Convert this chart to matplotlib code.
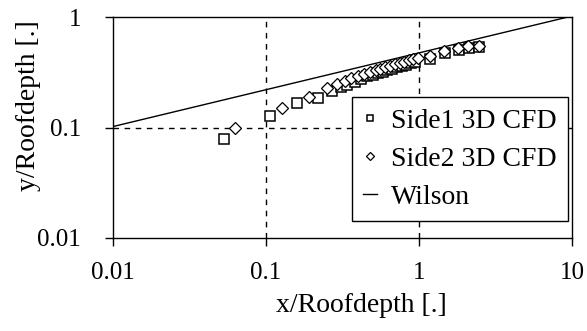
import matplotlib
matplotlib.use("Agg")
import matplotlib.pyplot as plt
from matplotlib.ticker import FixedLocator, FixedFormatter, NullLocator

plt.rcParams['font.family'] = ['Liberation Serif', 'DejaVu Serif']

# Side 1 (3D CFD) reattachment profile
side1_x = [0.053, 0.106, 0.16, 0.22, 0.27, 0.31, 0.34, 0.38, 0.42, 0.46, 0.50,
           0.54, 0.58, 0.62, 0.67, 0.72, 0.77, 0.82, 0.88, 0.94, 1.18, 1.48,
           1.83, 2.13, 2.45]
side1_y = [0.079, 0.126, 0.166, 0.185, 0.214, 0.232, 0.24, 0.26, 0.275, 0.29,
           0.30, 0.31, 0.32, 0.33, 0.34, 0.35, 0.36, 0.37, 0.38, 0.39, 0.42,
           0.47, 0.50, 0.52, 0.53]

# Side 2 (3D CFD) reattachment profile
side2_x = [0.063, 0.127, 0.19, 0.25, 0.29, 0.33, 0.36, 0.40, 0.44, 0.48, 0.52,
           0.56, 0.60, 0.65, 0.70, 0.75, 0.80, 0.86, 0.92, 0.98, 1.18, 1.45,
           1.8, 2.1, 2.45]
side2_y = [0.10, 0.149, 0.19, 0.228, 0.248, 0.264, 0.28, 0.29, 0.305, 0.32,
           0.33, 0.34, 0.35, 0.36, 0.375, 0.385, 0.395, 0.405, 0.415, 0.425,
           0.44, 0.49, 0.52, 0.55, 0.55]

# Wilson envelope (straight line on log-log axes)
wilson_x = [0.01, 10.0]
wilson_y = [0.102, 1.02]

x_ticks = [0.01, 0.1, 1, 10]
x_tick_labels = ['0.01', '0.1', '1', '10']
y_ticks = [0.01, 0.1, 1]
y_tick_labels = ['0.01', '0.1', '1']

fig = plt.figure(figsize=(5.87, 3.31), dpi=100)
ax = fig.add_axes([113 / 587, 1 - 238 / 331, (572 - 113) / 587, (238 - 17) / 331])

ax.set_xscale('log')
ax.set_yscale('log')
ax.set_xlim(0.01, 10)
ax.set_ylim(0.01, 1)

# dashed reference lines
for xv in [0.1, 1]:
    ax.axvline(xv, color='black', lw=1.0, ls=(0, (4, 4)), zorder=1)
ax.axhline(0.1, color='black', lw=1.0, ls=(0, (4, 4)), zorder=1)

ax.plot(side1_x, side1_y, ls='none', marker='s', ms=7.5, mfc='white',
        mec='black', mew=1.1, label='Side1 3D CFD', zorder=3)
ax.plot(side2_x, side2_y, ls='none', marker='D', ms=6.5, mfc='white',
        mec='black', mew=0.9, label='Side2 3D CFD', zorder=3)
ax.plot(wilson_x, wilson_y, color='black', lw=1.0, label='Wilson', zorder=2,
        clip_on=True)

ax.xaxis.set_major_locator(FixedLocator(x_ticks))
ax.xaxis.set_major_formatter(FixedFormatter(x_tick_labels))
ax.xaxis.set_minor_locator(NullLocator())
ax.yaxis.set_major_locator(FixedLocator(y_ticks))
ax.yaxis.set_major_formatter(FixedFormatter(y_tick_labels))
ax.yaxis.set_minor_locator(NullLocator())

ax.tick_params(direction='out', length=6, width=1.0, labelsize=18,
               colors='black')
ax.tick_params(axis='x', pad=11)
ax.tick_params(axis='y', pad=17)
for s in ax.spines.values():
    s.set_linewidth(1.0)
    s.set_color('black')

ax.set_xlabel('x/Roofdepth [.]', fontsize=20)
ax.set_ylabel('y/Roofdepth [.]', fontsize=20)
ax.xaxis.set_label_coords((361 - 113) / 459, -(293 - 238) / 221)
ax.yaxis.set_label_coords(-(113 - 41) / 459, (238 - 106) / 221)

leg = ax.legend(loc='lower right', bbox_to_anchor=(0.991, 0.077), fontsize=20,
                frameon=True, fancybox=False, edgecolor='black',
                framealpha=1.0, handlelength=0.5, handletextpad=0.5,
                borderpad=0.4, labelspacing=0.45, markerscale=0.6,
                borderaxespad=0)
leg.get_frame().set_linewidth(1.0)

fig.savefig('out.png', dpi=100)
